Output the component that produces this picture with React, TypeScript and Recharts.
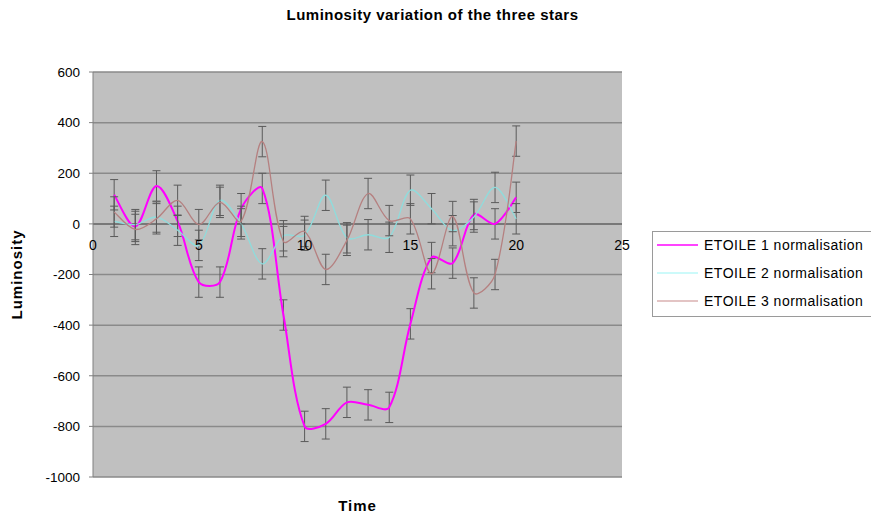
import React from 'react';
import {
  LineChart,
  Line,
  XAxis,
  YAxis,
  CartesianGrid,
  ErrorBar,
  ReferenceLine,
  ReferenceDot,
} from 'recharts';

const times = [1, 2, 3, 4, 5, 6, 7, 8, 9, 10, 11, 12, 13, 14, 15, 16, 17, 18, 19, 20];
const etoile1 = [115, -10, 150, 10, -230, -230, 60, 140, -360, -800, -790, -705, -715, -725, -395, -133, -155, 37, 0, 105];
const etoile2 = [10, -3, 27, -25, -85, 93, 0, -158, -47, -45, 113, -55, -43, -53, 133, 60, -27, 27, 144, 20];
const etoile3 = [47, -22, 20, 93, -3, 85, 10, 325, -70, -30, -180, -65, 120, 13, 20, -197, 29, -273, -200, 327];
const err1 = [60, 60, 60, 60, 60, 60, 60, 60, 60, 60, 60, 60, 60, 60, 60, 60, 60, 60, 60, 60];
const err2 = [60, 60, 60, 60, 60, 60, 60, 60, 60, 60, 60, 60, 60, 60, 60, 60, 60, 60, 60, 60];
const err3 = [60, 60, 60, 60, 60, 60, 60, 60, 60, 60, 60, 60, 60, 60, 60, 60, 60, 60, 60, 60];
const xTicks = [0, 5, 10, 15, 20, 25];
const yTicks = [-1000, -800, -600, -400, -200, 0, 200, 400, 600];
const seriesNames = ['ETOILE 1 normalisation', 'ETOILE 2 normalisation', 'ETOILE 3 normalisation'];

const data = times.map((t, i) => ({
  t,
  e1: etoile1[i],
  e2: etoile2[i],
  e3: etoile3[i],
  e1err: err1[i],
  e2err: err2[i],
  e3err: err3[i],
}));

const FONT = '"Liberation Sans", Arial, sans-serif';

// Spreadsheet-style smoothed line: Bezier segments with chord-weighted tangents
function smoothCurve(context: any) {
  let pts: number[][] = [];
  const dist = (a: number[], b: number[]) => Math.hypot(b[0] - a[0], b[1] - a[1]);
  return {
    areaStart() {},
    areaEnd() {},
    lineStart() {
      pts = [];
    },
    lineEnd() {
      const n = pts.length;
      if (!n) return;
      context.moveTo(pts[0][0], pts[0][1]);
      for (let i = 0; i < n - 1; i++) {
        const p0 = pts[i - 1] || pts[i];
        const p1 = pts[i];
        const p2 = pts[i + 1];
        const p3 = pts[i + 2] || pts[i + 1];
        const d01 = dist(p0, p1);
        const d12 = dist(p1, p2);
        const d23 = dist(p2, p3);
        const f1 = d01 + d12 > 0 ? d12 / (d01 + d12) / 3 : 0;
        const f2 = d12 + d23 > 0 ? d12 / (d12 + d23) / 3 : 0;
        const a = i === 0 ? 1 / 6 : f1;
        const b = i === n - 2 ? 1 / 6 : f2;
        context.bezierCurveTo(
          p1[0] + (p2[0] - p0[0]) * a,
          p1[1] + (p2[1] - p0[1]) * a,
          p2[0] - (p3[0] - p1[0]) * b,
          p2[1] - (p3[1] - p1[1]) * b,
          p2[0],
          p2[1]
        );
      }
    },
    point(x: number, y: number) {
      pts.push([+x, +y]);
    },
  };
}

const series = [
  { key: 'e1', err: 'e1err', name: seriesNames[0], color: '#ff00ff', legendColor: '#ff44ff', width: 2 },
  { key: 'e2', err: 'e2err', name: seriesNames[1], color: '#8fdcdc', legendColor: '#ccfafa', width: 1.3 },
  { key: 'e3', err: 'e3err', name: seriesNames[2], color: '#b58080', legendColor: '#e3c4c4', width: 1.3 },
];

export default function App() {
  return (
    <div style={{ position: 'absolute', left: 0, top: 0, width: 871, height: 516, background: '#fff', fontFamily: FONT }}>
      <div
        style={{
          position: 'absolute',
          left: 0,
          width: 871,
          top: 6,
          textAlign: 'center',
          fontWeight: 'bold',
          fontSize: 15,
          letterSpacing: 0.5,
        }}
      >
        <span style={{ position: 'relative', left: -3 }}>Luminosity variation of the three stars</span>
      </div>
      <LineChart width={871} height={516} data={data} margin={{ top: 72, right: 249, bottom: 0, left: 0 }}>
        <CartesianGrid fill="#c0c0c0" stroke="#8a8a8a" strokeWidth={1.5} vertical={false} />
        <XAxis
          type="number"
          dataKey="t"
          domain={[0, 25]}
          ticks={xTicks}
          height={39}
          axisLine={false}
          tickLine={false}
          tick={false}
          label={{ value: 'Time', position: 'insideBottom', offset: 5, style: { fontWeight: 'bold', fontSize: 15, letterSpacing: 1, fill: '#000', fontFamily: FONT } }}
        />
        <YAxis
          type="number"
          domain={[-1000, 600]}
          ticks={yTicks}
          width={93}
          axisLine={{ stroke: '#808080' }}
          tickLine={{ stroke: '#808080' }}
          tickSize={4}
          tickMargin={9}
          tick={{ fontSize: 13.5, fill: '#000', fontFamily: FONT }}
          label={{ value: 'Luminosity', angle: -90, position: 'insideLeft', offset: 17, style: { fontWeight: 'bold', fontSize: 15, letterSpacing: 1, fill: '#000', fontFamily: FONT, textAnchor: 'middle' } }}
        />
        <ReferenceLine y={0} stroke="#6e6e6e" strokeWidth={1.5} />
        {xTicks.map((t) => (
          <ReferenceDot
            key={t}
            x={t}
            y={0}
            r={0}
            fill="none"
            stroke="none"
            label={{ value: String(t), position: 'bottom', offset: 16, style: { fontSize: 14, fill: '#000', fontFamily: FONT } }}
          />
        ))}
        {series.map((s) => (
          <Line
            key={s.key}
            dataKey={s.key}
            name={s.name}
            type={smoothCurve as any}
            stroke={s.color}
            strokeWidth={s.width}
            dot={false}
            activeDot={false}
            isAnimationActive={false}
          >
            <ErrorBar dataKey={s.err} width={4} stroke="#5a5a5a" strokeWidth={1} direction="y" />
          </Line>
        ))}
      </LineChart>
      <div
        style={{
          position: 'absolute',
          left: 652,
          top: 231,
          width: 230,
          height: 86,
          border: '1px solid #9a9a9a',
          background: '#fff',
          boxSizing: 'border-box',
        }}
      >
        {series.map((s, i) => (
          <div
            key={s.key}
            style={{ position: 'absolute', left: 4, top: 3 + i * 28, height: 20, display: 'flex', alignItems: 'center', whiteSpace: 'nowrap' }}
          >
            <div style={{ width: 41, height: 2, background: s.legendColor, marginRight: 6 }} />
            <span style={{ fontSize: 14, letterSpacing: 0.5, color: '#000' }}>{s.name}</span>
          </div>
        ))}
      </div>
    </div>
  );
}
